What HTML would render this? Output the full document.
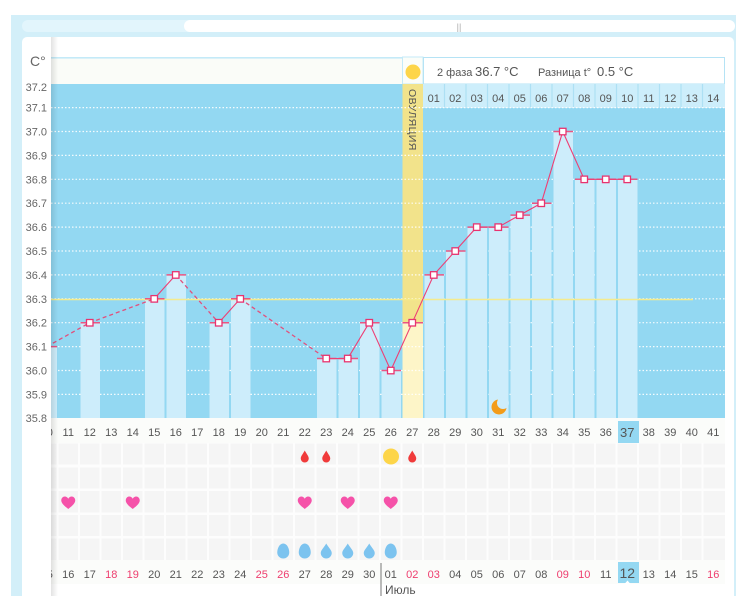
<!DOCTYPE html>
<html><head><meta charset="utf-8"><style>
html,body{margin:0;padding:0;background:#fff;}
svg{display:block;font-family:"Liberation Sans",Arial,sans-serif;}
</style></head><body>
<svg width="736" height="596" viewBox="0 0 736 596" xmlns="http://www.w3.org/2000/svg">
<defs>
<linearGradient id="sh" x1="0" x2="1" y1="0" y2="0"><stop offset="0" stop-color="#000" stop-opacity="0.11"/><stop offset="1" stop-color="#000" stop-opacity="0"/></linearGradient>
<clipPath id="cc"><rect x="51" y="0" width="674" height="596"/></clipPath>
<clipPath id="lc"><rect x="49" y="0" width="680" height="596"/></clipPath>
</defs>
<rect x="11" y="15" width="725" height="581" fill="#d3eff9"/>
<rect x="22" y="20" width="713" height="12" rx="6" fill="#e2f5fc"/>
<rect x="184" y="20" width="551" height="12" rx="6" fill="#fff"/>
<text x="459" y="30" font-size="9" fill="#aaa" text-anchor="middle">||</text>
<rect x="22" y="37" width="712" height="570" rx="5" fill="#fff"/>

<rect x="51" y="57" width="352" height="27" fill="#fafcf8"/>
<rect x="51" y="57" width="352" height="1.6" fill="#c4eaf8"/>
<rect x="402.5" y="57" width="20.5" height="27" fill="#fbfdf9" stroke="#c4eaf8" stroke-width="1"/>
<circle cx="413" cy="72" r="7.5" fill="#fdd549"/>
<rect x="423.5" y="57.5" width="301" height="26.5" fill="#fff" stroke="#b5e3f5" stroke-width="1"/>
<text y="76" fill="#555" font-size="11"><tspan x="437">2 фаза</tspan><tspan x="475" font-size="13">36.7 °C</tspan><tspan x="538">Разница t°</tspan><tspan x="597" font-size="13">0.5 °C</tspan></text>

<rect x="51" y="84" width="674" height="334" fill="#93d8f2"/>
<rect x="423" y="84" width="302" height="24" fill="#cdeefb"/>
<g stroke="#ade0f4" stroke-width="1.2">
<line x1="444.5" y1="84" x2="444.5" y2="108"/><line x1="466" y1="84" x2="466" y2="108"/><line x1="487.5" y1="84" x2="487.5" y2="108"/><line x1="509" y1="84" x2="509" y2="108"/><line x1="530.5" y1="84" x2="530.5" y2="108"/><line x1="552" y1="84" x2="552" y2="108"/><line x1="573.5" y1="84" x2="573.5" y2="108"/><line x1="595" y1="84" x2="595" y2="108"/><line x1="616.5" y1="84" x2="616.5" y2="108"/><line x1="638" y1="84" x2="638" y2="108"/><line x1="659.5" y1="84" x2="659.5" y2="108"/><line x1="681" y1="84" x2="681" y2="108"/><line x1="702.5" y1="84" x2="702.5" y2="108"/>
</g>
<g font-size="11" fill="#555" text-anchor="middle">
<text x="433.75" y="102">01</text><text x="455.25" y="102">02</text><text x="476.75" y="102">03</text><text x="498.25" y="102">04</text><text x="519.75" y="102">05</text><text x="541.25" y="102">06</text><text x="562.75" y="102">07</text><text x="584.25" y="102">08</text><text x="605.75" y="102">09</text><text x="627.25" y="102">10</text><text x="648.75" y="102">11</text><text x="670.25" y="102">12</text><text x="691.75" y="102">13</text><text x="713.25" y="102">14</text>
</g>

<rect x="402.5" y="84" width="20.5" height="334" fill="#f2e38b"/>
<rect x="402.5" y="322.7" width="20.5" height="95.3" fill="#fdf5c8"/>
<text transform="translate(409,89) rotate(90)" font-size="10.5" fill="#555" letter-spacing="0.4">ОВУЛЯЦИЯ</text>

<g stroke="#ffffff" stroke-width="1.2" stroke-dasharray="1.5 2" opacity="0.9">
<line x1="51" y1="107.6" x2="725" y2="107.6"/><line x1="51" y1="131.5" x2="725" y2="131.5"/><line x1="51" y1="155.4" x2="725" y2="155.4"/><line x1="51" y1="179.3" x2="725" y2="179.3"/><line x1="51" y1="203.2" x2="725" y2="203.2"/><line x1="51" y1="227.1" x2="725" y2="227.1"/><line x1="51" y1="251" x2="725" y2="251"/><line x1="51" y1="274.9" x2="725" y2="274.9"/><line x1="51" y1="298.8" x2="725" y2="298.8"/><line x1="51" y1="322.7" x2="725" y2="322.7"/><line x1="51" y1="346.6" x2="725" y2="346.6"/><line x1="51" y1="370.5" x2="725" y2="370.5"/><line x1="51" y1="394.4" x2="725" y2="394.4"/>
</g>

<g clip-path="url(#cc)">
<g fill="#cdedfb">
<rect x="37.5" y="346.6" width="19.5" height="71.4"/>
<rect x="80.5" y="322.7" width="19.5" height="95.3"/>
<rect x="145" y="298.8" width="19.5" height="119.2"/>
<rect x="166.5" y="274.9" width="19.5" height="143.1"/>
<rect x="209.5" y="322.7" width="19.5" height="95.3"/>
<rect x="231" y="298.8" width="19.5" height="119.2"/>
<rect x="317" y="358.55" width="19.5" height="59.45"/>
<rect x="338.5" y="358.55" width="19.5" height="59.45"/>
<rect x="360" y="322.7" width="19.5" height="95.3"/>
<rect x="381.5" y="370.5" width="19.5" height="47.5"/>
<rect x="424.5" y="274.9" width="19.5" height="143.1"/>
<rect x="446" y="251" width="19.5" height="167"/>
<rect x="467.5" y="227.1" width="19.5" height="190.9"/>
<rect x="489" y="227.1" width="19.5" height="190.9"/>
<rect x="510.5" y="215.15" width="19.5" height="202.85"/>
<rect x="532" y="203.2" width="19.5" height="214.8"/>
<rect x="553.5" y="131.5" width="19.5" height="286.5"/>
<rect x="575" y="179.3" width="19.5" height="238.7"/>
<rect x="596.5" y="179.3" width="19.5" height="238.7"/>
<rect x="618" y="179.3" width="19.5" height="238.7"/>
</g>
<line x1="51" y1="299.5" x2="693" y2="299.5" stroke="#f5eb8c" stroke-width="1.6"/>
<circle cx="499" cy="407" r="7.5" fill="#f39c19"/>
<circle cx="503" cy="403" r="6" fill="#cdedfb"/>
<g stroke="#ea5582" stroke-width="1.5">
<line x1="37.5" y1="346.6" x2="57" y2="346.6"/>
<line x1="80.5" y1="322.7" x2="100" y2="322.7"/>
<line x1="145" y1="298.8" x2="164.5" y2="298.8"/>
<line x1="166.5" y1="274.9" x2="186" y2="274.9"/>
<line x1="209.5" y1="322.7" x2="229" y2="322.7"/>
<line x1="231" y1="298.8" x2="250.5" y2="298.8"/>
<line x1="317" y1="358.55" x2="336.5" y2="358.55"/>
<line x1="338.5" y1="358.55" x2="358" y2="358.55"/>
<line x1="360" y1="322.7" x2="379.5" y2="322.7"/>
<line x1="381.5" y1="370.5" x2="401" y2="370.5"/>
<line x1="402.5" y1="322.7" x2="423" y2="322.7"/>
<line x1="424.5" y1="274.9" x2="444" y2="274.9"/>
<line x1="446" y1="251" x2="465.5" y2="251"/>
<line x1="467.5" y1="227.1" x2="487" y2="227.1"/>
<line x1="489" y1="227.1" x2="508.5" y2="227.1"/>
<line x1="510.5" y1="215.15" x2="530" y2="215.15"/>
<line x1="532" y1="203.2" x2="551.5" y2="203.2"/>
<line x1="553.5" y1="131.5" x2="573" y2="131.5"/>
<line x1="575" y1="179.3" x2="594.5" y2="179.3"/>
<line x1="596.5" y1="179.3" x2="616" y2="179.3"/>
<line x1="618" y1="179.3" x2="637.5" y2="179.3"/>
</g>
<g stroke="#e2507c" stroke-width="1.3" stroke-dasharray="4 3" fill="none">
<polyline points="46.75,346.6 89.75,322.7 154.25,298.8"/>
<polyline points="175.75,274.9 218.75,322.7"/>
<polyline points="240.25,298.8 326.25,358.55"/>
</g>
<g stroke="#ee3f74" stroke-width="1.1" fill="none">
<polyline points="154.25,298.8 175.75,274.9"/>
<polyline points="218.75,322.7 240.25,298.8"/>
<polyline points="326.25,358.55 347.75,358.55 369.25,322.7 390.75,370.5 412.25,322.7 433.75,274.9 455.25,251 476.75,227.1 498.25,227.1 519.75,215.15 541.25,203.2 562.75,131.5 584.25,179.3 605.75,179.3 627.25,179.3"/>
</g>
<g fill="#fff" stroke="#e8336f" stroke-width="1.3">
<rect x="43.5" y="343.4" width="6.5" height="6.5"/>
<rect x="86.5" y="319.5" width="6.5" height="6.5"/>
<rect x="151" y="295.6" width="6.5" height="6.5"/>
<rect x="172.5" y="271.7" width="6.5" height="6.5"/>
<rect x="215.5" y="319.5" width="6.5" height="6.5"/>
<rect x="237" y="295.6" width="6.5" height="6.5"/>
<rect x="323" y="355.3" width="6.5" height="6.5"/>
<rect x="344.5" y="355.3" width="6.5" height="6.5"/>
<rect x="366" y="319.5" width="6.5" height="6.5"/>
<rect x="387.5" y="367.3" width="6.5" height="6.5"/>
<rect x="409" y="319.5" width="6.5" height="6.5"/>
<rect x="430.5" y="271.7" width="6.5" height="6.5"/>
<rect x="452" y="247.8" width="6.5" height="6.5"/>
<rect x="473.5" y="223.9" width="6.5" height="6.5"/>
<rect x="495" y="223.9" width="6.5" height="6.5"/>
<rect x="516.5" y="211.9" width="6.5" height="6.5"/>
<rect x="538" y="200" width="6.5" height="6.5"/>
<rect x="559.5" y="128.3" width="6.5" height="6.5"/>
<rect x="581" y="176.1" width="6.5" height="6.5"/>
<rect x="602.5" y="176.1" width="6.5" height="6.5"/>
<rect x="624" y="176.1" width="6.5" height="6.5"/>
</g>
</g>

<rect x="51" y="418" width="674" height="25" fill="#fbfcfa"/>
<rect x="618" y="421" width="21" height="22" fill="#94d8f2"/>
<g font-size="11" fill="#555" text-anchor="middle" clip-path="url(#lc)">
<text x="46.75" y="436">10</text><text x="68.25" y="436">11</text><text x="89.75" y="436">12</text><text x="111.25" y="436">13</text><text x="132.75" y="436">14</text><text x="154.25" y="436">15</text><text x="175.75" y="436">16</text><text x="197.25" y="436">17</text><text x="218.75" y="436">18</text><text x="240.25" y="436">19</text><text x="261.75" y="436">20</text><text x="283.25" y="436">21</text><text x="304.75" y="436">22</text><text x="326.25" y="436">23</text><text x="347.75" y="436">24</text><text x="369.25" y="436">25</text><text x="390.75" y="436">26</text><text x="412.25" y="436">27</text><text x="433.75" y="436">28</text><text x="455.25" y="436">29</text><text x="476.75" y="436">30</text><text x="498.25" y="436">31</text><text x="519.75" y="436">32</text><text x="541.25" y="436">33</text><text x="562.75" y="436">34</text><text x="584.25" y="436">35</text><text x="605.75" y="436">36</text><text x="627.25" y="437" font-size="13">37</text><text x="648.75" y="436">38</text><text x="670.25" y="436">39</text><text x="691.75" y="436">40</text><text x="713.25" y="436">41</text>
</g>

<rect x="51" y="443" width="674" height="117" fill="#fdfdfd"/>
<g fill="#f5f5f5">
<rect x="51" y="443.5" width="674" height="21"/>
<rect x="51" y="467.5" width="674" height="21"/>
<rect x="51" y="491" width="674" height="21.5"/>
<rect x="51" y="515" width="674" height="21"/>
<rect x="51" y="538.5" width="674" height="21.5"/>
</g>
<g stroke="#fdfdfd" stroke-width="2">
<line x1="57.5" y1="443" x2="57.5" y2="560"/><line x1="79" y1="443" x2="79" y2="560"/><line x1="100.5" y1="443" x2="100.5" y2="560"/><line x1="122" y1="443" x2="122" y2="560"/><line x1="143.5" y1="443" x2="143.5" y2="560"/><line x1="165" y1="443" x2="165" y2="560"/><line x1="186.5" y1="443" x2="186.5" y2="560"/><line x1="208" y1="443" x2="208" y2="560"/><line x1="229.5" y1="443" x2="229.5" y2="560"/><line x1="251" y1="443" x2="251" y2="560"/><line x1="272.5" y1="443" x2="272.5" y2="560"/><line x1="294" y1="443" x2="294" y2="560"/><line x1="315.5" y1="443" x2="315.5" y2="560"/><line x1="337" y1="443" x2="337" y2="560"/><line x1="358.5" y1="443" x2="358.5" y2="560"/><line x1="380" y1="443" x2="380" y2="560"/><line x1="401.5" y1="443" x2="401.5" y2="560"/><line x1="423" y1="443" x2="423" y2="560"/><line x1="444.5" y1="443" x2="444.5" y2="560"/><line x1="466" y1="443" x2="466" y2="560"/><line x1="487.5" y1="443" x2="487.5" y2="560"/><line x1="509" y1="443" x2="509" y2="560"/><line x1="530.5" y1="443" x2="530.5" y2="560"/><line x1="552" y1="443" x2="552" y2="560"/><line x1="573.5" y1="443" x2="573.5" y2="560"/><line x1="595" y1="443" x2="595" y2="560"/><line x1="616.5" y1="443" x2="616.5" y2="560"/><line x1="638" y1="443" x2="638" y2="560"/><line x1="659.5" y1="443" x2="659.5" y2="560"/><line x1="681" y1="443" x2="681" y2="560"/><line x1="702.5" y1="443" x2="702.5" y2="560"/>
</g>
<g fill="#f03a3a">
<path transform="translate(304.75,456.5)" d="M0,-6 C1.5,-3 4,-0.5 4,2 A4,4 0 0 1 -4,2 C-4,-0.5 -1.5,-3 0,-6 Z"/>
<path transform="translate(326.25,456.5)" d="M0,-6 C1.5,-3 4,-0.5 4,2 A4,4 0 0 1 -4,2 C-4,-0.5 -1.5,-3 0,-6 Z"/>
<path transform="translate(412.25,456.5)" d="M0,-6 C1.5,-3 4,-0.5 4,2 A4,4 0 0 1 -4,2 C-4,-0.5 -1.5,-3 0,-6 Z"/>
</g>
<circle cx="391" cy="456.5" r="8" fill="#fdd549"/>
<g fill="#f552a9">
<path transform="translate(68.25,503)" d="M0,6 C-2,4.2 -7,1 -7,-2.5 C-7,-5 -5.2,-6.5 -3.5,-6.5 C-2,-6.5 -0.7,-5.7 0,-4.3 C0.7,-5.7 2,-6.5 3.5,-6.5 C5.2,-6.5 7,-5 7,-2.5 C7,1 2,4.2 0,6 Z"/>
<path transform="translate(132.75,503)" d="M0,6 C-2,4.2 -7,1 -7,-2.5 C-7,-5 -5.2,-6.5 -3.5,-6.5 C-2,-6.5 -0.7,-5.7 0,-4.3 C0.7,-5.7 2,-6.5 3.5,-6.5 C5.2,-6.5 7,-5 7,-2.5 C7,1 2,4.2 0,6 Z"/>
<path transform="translate(304.75,503)" d="M0,6 C-2,4.2 -7,1 -7,-2.5 C-7,-5 -5.2,-6.5 -3.5,-6.5 C-2,-6.5 -0.7,-5.7 0,-4.3 C0.7,-5.7 2,-6.5 3.5,-6.5 C5.2,-6.5 7,-5 7,-2.5 C7,1 2,4.2 0,6 Z"/>
<path transform="translate(347.75,503)" d="M0,6 C-2,4.2 -7,1 -7,-2.5 C-7,-5 -5.2,-6.5 -3.5,-6.5 C-2,-6.5 -0.7,-5.7 0,-4.3 C0.7,-5.7 2,-6.5 3.5,-6.5 C5.2,-6.5 7,-5 7,-2.5 C7,1 2,4.2 0,6 Z"/>
<path transform="translate(390.75,503)" d="M0,6 C-2,4.2 -7,1 -7,-2.5 C-7,-5 -5.2,-6.5 -3.5,-6.5 C-2,-6.5 -0.7,-5.7 0,-4.3 C0.7,-5.7 2,-6.5 3.5,-6.5 C5.2,-6.5 7,-5 7,-2.5 C7,1 2,4.2 0,6 Z"/>
</g>
<g fill="#7cc3ef">
<path transform="translate(283.25,551)" d="M0,-7.5 C3.8,-7.5 6,-2.5 6,1.5 A6,6 0 0 1 -6,1.5 C-6,-2.5 -3.8,-7.5 0,-7.5 Z"/>
<path transform="translate(304.75,551)" d="M0,-7.5 C3.8,-7.5 6,-2.5 6,1.5 A6,6 0 0 1 -6,1.5 C-6,-2.5 -3.8,-7.5 0,-7.5 Z"/>
<path transform="translate(326.25,551)" d="M0,-7.5 C1.8,-4 5.5,-1 5.5,2 A5.5,5.5 0 0 1 -5.5,2 C-5.5,-1 -1.8,-4 0,-7.5 Z"/>
<path transform="translate(347.75,551)" d="M0,-7.5 C1.8,-4 5.5,-1 5.5,2 A5.5,5.5 0 0 1 -5.5,2 C-5.5,-1 -1.8,-4 0,-7.5 Z"/>
<path transform="translate(369.25,551)" d="M0,-7.5 C1.8,-4 5.5,-1 5.5,2 A5.5,5.5 0 0 1 -5.5,2 C-5.5,-1 -1.8,-4 0,-7.5 Z"/>
<path transform="translate(390.75,551)" d="M0,-7.5 C3.8,-7.5 6,-2.5 6,1.5 A6,6 0 0 1 -6,1.5 C-6,-2.5 -3.8,-7.5 0,-7.5 Z"/>
</g>

<rect x="51" y="560" width="674" height="24" fill="#fbfcfa"/>
<rect x="618" y="562" width="21" height="21" fill="#94d8f2"/>
<path d="M624.5,584 L627.5,580.5 L630.5,584 Z" fill="#fff"/>
<g font-size="11" fill="#555" text-anchor="middle" clip-path="url(#lc)">
<text x="46.75" y="578">15</text><text x="68.25" y="578">16</text><text x="89.75" y="578">17</text><text x="111.25" y="578" fill="#ee3d6e">18</text><text x="132.75" y="578" fill="#ee3d6e">19</text><text x="154.25" y="578">20</text><text x="175.75" y="578">21</text><text x="197.25" y="578">22</text><text x="218.75" y="578">23</text><text x="240.25" y="578">24</text><text x="261.75" y="578" fill="#ee3d6e">25</text><text x="283.25" y="578" fill="#ee3d6e">26</text><text x="304.75" y="578">27</text><text x="326.25" y="578">28</text><text x="347.75" y="578">29</text><text x="369.25" y="578">30</text><text x="390.75" y="578">01</text><text x="412.25" y="578" fill="#ee3d6e">02</text><text x="433.75" y="578" fill="#ee3d6e">03</text><text x="455.25" y="578">04</text><text x="476.75" y="578">05</text><text x="498.25" y="578">06</text><text x="519.75" y="578">07</text><text x="541.25" y="578">08</text><text x="562.75" y="578" fill="#ee3d6e">09</text><text x="584.25" y="578" fill="#ee3d6e">10</text><text x="605.75" y="578">11</text><text x="627.25" y="578" font-size="14">12</text><text x="648.75" y="578">13</text><text x="670.25" y="578">14</text><text x="691.75" y="578">15</text><text x="713.25" y="578" fill="#ee3d6e">16</text>
</g>
<line x1="381" y1="563" x2="381" y2="596" stroke="#777" stroke-width="1"/>
<text x="385" y="594" font-size="12" fill="#555">Июль</text>

<rect x="22" y="42" width="29" height="554" fill="#fff"/>
<rect x="51" y="37" width="7" height="559" fill="url(#sh)"/>
<text x="30" y="66" font-size="14" fill="#666">C°</text>
<g font-size="11" fill="#666" text-anchor="end">
<text x="47" y="91">37.2</text><text x="47" y="111.6">37.1</text><text x="47" y="135.5">37.0</text><text x="47" y="159.4">36.9</text><text x="47" y="183.3">36.8</text><text x="47" y="207.2">36.7</text><text x="47" y="231.1">36.6</text><text x="47" y="255">36.5</text><text x="47" y="278.9">36.4</text><text x="47" y="302.8">36.3</text><text x="47" y="326.7">36.2</text><text x="47" y="350.6">36.1</text><text x="47" y="374.5">36.0</text><text x="47" y="398.4">35.9</text><text x="47" y="422">35.8</text>
</g>
</svg>
</body></html>
